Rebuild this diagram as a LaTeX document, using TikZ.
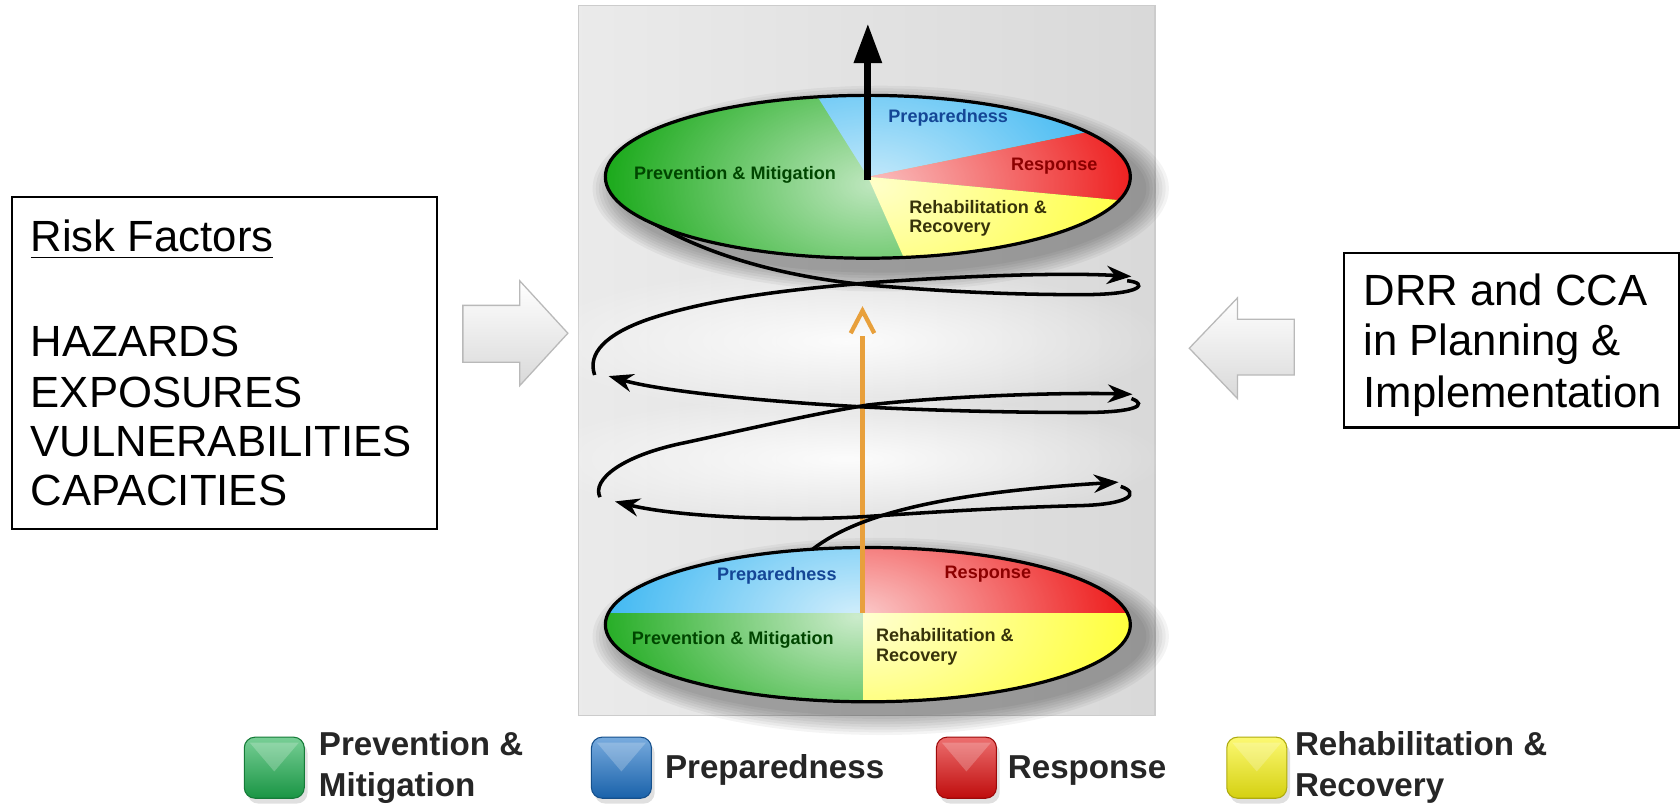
\documentclass[tikz,border=0pt]{standalone}
\usepackage{fontspec}
\setmainfont{Liberation Sans}
\usetikzlibrary{arrows.meta,fadings}
\tikzfading[name=myglow, inner color=transparent!0, outer color=transparent!100]
\definecolor{pgreen}{RGB}{0,160,0}
\definecolor{pblue}{RGB}{30,172,240}
\definecolor{pred}{RGB}{236,0,0}
\definecolor{pyellow}{RGB}{255,255,40}
\definecolor{orng}{RGB}{232,160,60}
\definecolor{tgreen}{RGB}{0,70,0}
\definecolor{tblue}{RGB}{20,70,150}
\definecolor{tred}{RGB}{140,0,0}
\definecolor{tyel}{RGB}{55,50,10}
\definecolor{lgreen}{RGB}{30,175,80}
\definecolor{lblue}{RGB}{30,115,200}
\definecolor{lred}{RGB}{225,15,15}
\definecolor{lyellow}{RGB}{250,245,20}
\tikzset{
 bigtxt/.style={font=\fontsize{11.6}{13.2}\selectfont, inner sep=0pt, anchor=base west},
 frame/.style={draw, line width=0.2mm, inner sep=0pt, anchor=north west},
 elltxt/.style={font=\fontsize{4.8}{5.6}\selectfont\bfseries, inner sep=0pt},
 legtxt/.style={font=\fontsize{8.8}{10.8}\selectfont\bfseries, inner sep=0pt, anchor=base west, text=black!85},
 spiral/.style={line width=0.33mm, black},
 sptip/.style={-{Stealth[length=2.3mm,width=1.7mm]}},
 blockarrow/.style={top color=white, bottom color=gray!30, draw=gray!55, line width=0.12mm},
}
\newcommand\mylegicon[3]{%
 \fill[black, fill opacity=0.12, rounded corners=1mm] (#1+3,#2+5) rectangle ++(56,57);
 \shadedraw[rounded corners=1mm, top color=#3!60!white, bottom color=#3!85!black, draw=#3!70!black, line width=0.1mm] (#1,#2) rectangle ++(56,57);
 \fill[white, fill opacity=0.22] (#1+5,#2+5) -- (#1+51,#2+5) -- (#1+28,#2+32) -- cycle;
}
\begin{document}
\begin{tikzpicture}[x=0.1mm,y=-0.1mm]
\useasboundingbox (0,0) rectangle (1568,752);
\fill[white] (0,0) rectangle (1568,752);

% ---------- centre panel ----------
\shade[left color=gray!16, middle color=gray!6, right color=gray!30] (540,5) rectangle (1078,668);
\draw[gray!40, line width=0.12mm] (540,5) rectangle (1078,668);
\fill[white, path fading=myglow, fill opacity=0.9] (790,318) ellipse (300 and 70);
\fill[white, path fading=myglow, fill opacity=0.9] (790,428) ellipse (300 and 60);

% shadows of the discs
\foreach \i in {1,...,8} {
 \fill[black, fill opacity=0.045] (822,176) ellipse ({245+3*\i} and {76+2.5*\i});
 \fill[black, fill opacity=0.045] (822,594) ellipse ({245+3*\i} and {72+2.5*\i});
}

% ---------- bottom disc ----------
\begin{scope}
 \clip (810,583) ellipse (245 and 72);
 \fill[pblue] (550,500) rectangle (805,572);
 \fill[pred] (805,500) rectangle (1070,572);
 \fill[pgreen] (550,572) rectangle (805,670);
 \fill[pyellow] (805,572) rectangle (1070,670);
 \fill[white, path fading=myglow, fill opacity=0.8] (800,575) ellipse (290 and 170);
\end{scope}
\draw[line width=0.3mm] (810,583) ellipse (245 and 72);

% orange upward arrow
\coordinate (obase) at (805,572);
\coordinate (otop) at (805,314);
\coordinate (otip) at (805,290);
\draw[orng, line width=0.5mm] (obase) -- (otop);
\draw[orng, line width=0.4mm] (794,311) -- (otip) -- (816,311);

% ---------- spiral ----------
\draw[spiral, sptip] (758,513) .. controls (800,480) and (880,460) .. (1044,450);
\draw[spiral, sptip] (1046,454) .. controls (1064,460) and (1056,471) .. (1005,472)
   .. controls (930,474) and (870,478) .. (810,482)
   .. controls (730,487) and (630,482) .. (574,468);
\draw[spiral, sptip] (560,464) .. controls (552,448) and (580,425) .. (640,413)
   .. controls (700,400) and (760,386) .. (810,378)
   .. controls (880,370) and (990,366) .. (1057,368);
\draw[spiral, sptip] (1056,372) .. controls (1072,378) and (1060,385) .. (1010,385)
   .. controls (940,385) and (870,383) .. (810,380)
   .. controls (730,376) and (620,366) .. (568,351);
\draw[spiral, sptip] (555,350) .. controls (548,330) and (565,312) .. (605,298)
   .. controls (665,278) and (740,270) .. (810,264)
   .. controls (890,258) and (990,254) .. (1056,258);
\draw[spiral] (1052,262) .. controls (1072,264) and (1068,275) .. (1010,275)
   .. controls (930,275) and (870,271) .. (810,266)
   .. controls (730,258) and (640,236) .. (575,185);

% ---------- top disc ----------
\begin{scope}
 \clip (810,165) ellipse (245 and 76);
 \fill[pgreen] (550,80) rectangle (1070,250);
 \fill[pblue] (810,165) -- (700,-10) -- (1100,-10) -- (1100,106) -- cycle;
 \fill[pred] (810,165) -- (1100,106) -- (1100,192) -- cycle;
 \fill[pyellow] (810,165) -- (1100,192) -- (1100,300) -- (870,300) -- cycle;
 \fill[white, path fading=myglow, fill opacity=0.75] (815,172) ellipse (290 and 180);
\end{scope}
\draw[line width=0.3mm] (810,165) ellipse (245 and 76);

% black upward arrow
\coordinate (tbase) at (810,168);
\coordinate (ttip) at (810,22);
\draw[line width=0.65mm, -{Triangle[length=3.7mm,width=2.5mm]}] (tbase) -- (ttip);

% disc labels
\node[elltxt, text=tblue] (tprep) at (885,110) {Preparedness};
\node[elltxt, text=tgreen] (tprev) at (686,163) {Prevention \& Mitigation};
\node[elltxt, text=tred] (tresp) at (984,155) {Response};
\node[elltxt, text=tyel, anchor=base west] (treh1) at (848,199) {Rehabilitation \&};
\node[elltxt, text=tyel, anchor=base west] (treh2) at (848,217) {Recovery};

\node[elltxt, text=tblue] (bprep) at (725,537) {Preparedness};
\node[elltxt, text=tred] (bresp) at (922,536) {Response};
\node[elltxt, text=tgreen] (bprev) at (684,597) {Prevention \& Mitigation};
\node[elltxt, text=tyel, anchor=base west] (breh1) at (817,599) {Rehabilitation \&};
\node[elltxt, text=tyel, anchor=base west] (breh2) at (817,617) {Recovery};

% ---------- left box ----------
\node[frame, minimum width=39.7mm, minimum height=31mm] (riskbox) at (10,183) {};
\node[bigtxt] (rf) at (28,235) {\underline{Risk Factors}};
\node[bigtxt] (hz) at (28,333) {HAZARDS};
\node[bigtxt] (ex) at (28,380) {EXPOSURES};
\node[bigtxt] (vu) at (28,426) {VULNERABILITIES};
\node[bigtxt] (ca) at (28,472) {CAPACITIES};

% ---------- right box ----------
\node[frame, minimum width=31.3mm, minimum height=16.3mm] (drrbox) at (1253,235) {};
\node[bigtxt] (d1) at (1272,285) {DRR and CCA};
\node[bigtxt] (d2) at (1272,332) {in Planning \&};
\node[bigtxt] (d3) at (1272,380) {Implementation};

% ---------- block arrows ----------
\shadedraw[blockarrow] (432,285) -- (485,285) -- (485,262) -- (530,311) -- (485,360) -- (485,338) -- (432,338) -- cycle;
\shadedraw[blockarrow] (1208,298) -- (1155,298) -- (1155,278) -- (1110,325) -- (1155,372) -- (1155,350) -- (1208,350) -- cycle;

% ---------- legend ----------
\mylegicon{228}{688}{lgreen}
\mylegicon{552}{688}{lblue}
\mylegicon{874}{688}{lred}
\mylegicon{1145}{688}{lyellow}
\node[legtxt] (lg1) at (297,705) {Prevention \&};
\node[legtxt] (lg2) at (297,743) {Mitigation};
\node[legtxt] (lb) at (620,727) {Preparedness};
\node[legtxt] (lr) at (940,727) {Response};
\node[legtxt] (ly1) at (1208,705) {Rehabilitation \&};
\node[legtxt] (ly2) at (1208,743) {Recovery};
\end{tikzpicture}
\end{document}
